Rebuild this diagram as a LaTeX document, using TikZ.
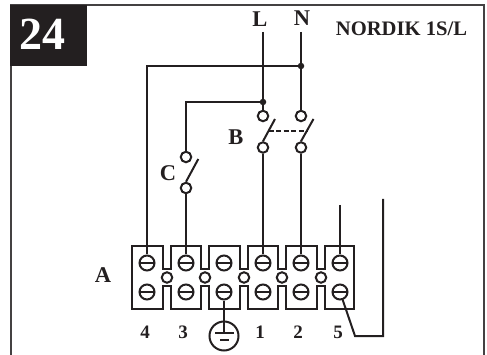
\documentclass[tikz,border=0pt]{standalone}
\usepackage{fontspec}
\setmainfont{Liberation Serif}
\usetikzlibrary{positioning}
\definecolor{InkBlack}{RGB}{35, 31, 32}
\tikzset{
    wire/.style={line width=2pt, InkBlack},
    screw/.style={circle, draw=InkBlack, line width=2pt, fill=white, inner sep=0pt, minimum size=15pt,
        path picture={\draw[wire] (path picture bounding box.west) -- (path picture bounding box.east);}},
    contact/.style={circle, draw=InkBlack, line width=2pt, fill=white, inner sep=0pt, minimum size=10.5pt},
    junction/.style={circle, fill=InkBlack, inner sep=0pt, minimum size=6.5pt},
    mark label/.style={InkBlack, inner sep=0pt, font=\fontsize{22.5}{22.5}\selectfont\bfseries},
    num label/.style={InkBlack, inner sep=0pt, font=\fontsize{19}{19}\selectfont\bfseries}
}

\begin{document}
\begin{tikzpicture}[x=1pt, y=-1pt]
    \useasboundingbox (0,0) rectangle (487,355);

    % Frame
    \draw[line width=2pt, InkBlack!85] (11,355) -- (11,5) -- (484,5) -- (484,355);
    \node[fill=InkBlack, minimum width=77pt, minimum height=61pt, inner sep=0pt] (badge) at (48.5,35.5) {};
    \node[text=white, inner sep=0pt, font=\fontsize{46}{46}\selectfont\bfseries] (badgenum) at (42,34) {24};
    \node[InkBlack, inner sep=0pt, font=\fontsize{20.6}{21}\selectfont\bfseries] (title) at (401.5,29) {NORDIK 1S/L};

    % Terminal block
    \draw[wire, line join=miter] (132,246)
        foreach \g in {167,205,244,282,321} { -- ({\g-4},246) -- ({\g-4},269) -- ({\g+4},269) -- ({\g+4},246) }
        -- (354,246) -- (354,309)
        foreach \g in {321,282,244,205,167} { -- ({\g+4},309) -- ({\g+4},286) -- ({\g-4},286) -- ({\g-4},309) }
        -- (132,309) -- cycle;
    \foreach \n/\x in {a/167, b/205, c/244, d/282, e/321}
        \node[contact] (link\n) at (\x,277.5) {};
    \foreach \n/\x in {4/147, 3/186, E/224, 1/263, 2/301, 5/340} {
        \node[screw] (top\n) at (\x,263) {};
        \node[screw] (bot\n) at (\x,292) {};
    }

    % Switches
    \node[contact] (BLtop) at (263,116) {};
    \node[contact] (BLbot) at (263,147.5) {};
    \node[contact] (BNtop) at (301,116) {};
    \node[contact] (BNbot) at (301,147.5) {};
    \node[contact] (Ctop) at (186,157) {};
    \node[contact] (Cbot) at (186,188) {};
    \coordinate (BLtip) at (275,119);
    \coordinate (BNtip) at (313.5,119);
    \coordinate (Ctip) at (198.3,159);
    \coordinate (gangL) at (268.5,131);
    \coordinate (gangN) at (307,131);
    \draw[wire] (BLbot.north) -- (BLtip);
    \draw[wire] (BNbot.north) -- (BNtip);
    \draw[wire] (Cbot.north) -- (Ctip);
    \draw[wire, dash pattern=on 5pt off 2.6pt] (gangL) -- (gangN);

    % Supply
    \coordinate (Lin) at (263,32);
    \coordinate (Nin) at (301,32);
    \node[junction] (jL) at (263,102) {};
    \node[junction] (jN) at (301,66) {};
    \draw[wire] (Lin) -- (jL) -- (BLtop);
    \draw[wire] (Nin) -- (jN) -- (BNtop);
    \draw[wire] (jN) -| (top4);
    \draw[wire] (jL) -| (Ctop);
    \draw[wire] (Cbot) -- (top3);
    \draw[wire] (BLbot) -- (top1);
    \draw[wire] (BNbot) -- (top2);

    % Terminal 5 wires
    \coordinate (free5) at (340,205);
    \coordinate (loopA) at (355,336);
    \coordinate (loopB) at (383,336);
    \coordinate (loopC) at (383,199);
    \draw[wire] (free5) -- (top5);
    \draw[wire, line join=miter] (bot5) -- (loopA) -- (loopB) -- (loopC);

    % Earth
    \node[circle, draw=InkBlack, line width=2pt, inner sep=0pt, minimum size=29pt] (earth) at (224,336) {};
    \coordinate (earthBar) at (224,333);
    \draw[wire] (botE) -- (earthBar);
    \draw[wire] (215,333) -- (234,333);
    \draw[wire] (220,340) -- (229,340);

    % Labels
    \node[mark label] (labL) at (260,19) {L};
    \node[mark label] (labN) at (302,18.5) {N};
    \node[mark label] (labB) at (236,137) {B};
    \node[mark label] (labC) at (168,173) {C};
    \node[mark label] (labA) at (103,275) {A};
    \foreach \n/\x in {4/145, 3/183, 1/260, 2/298, 5/338}
        \node[num label] (num\n) at (\x,332) {\n};
\end{tikzpicture}
\end{document}
